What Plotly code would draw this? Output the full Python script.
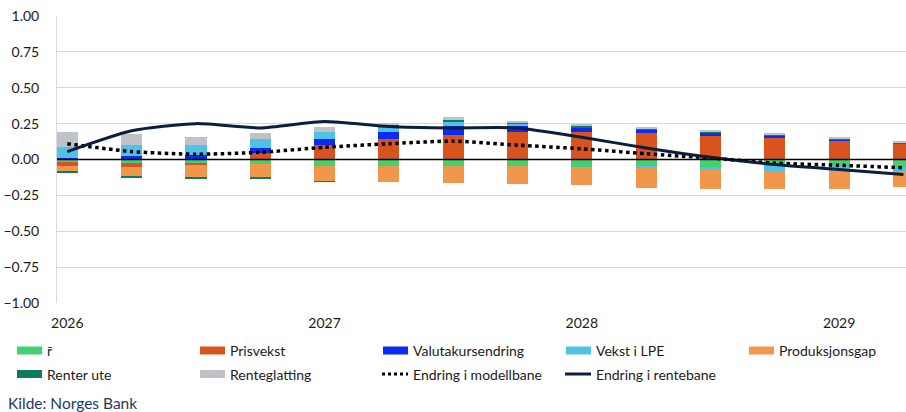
import plotly.graph_objects as go

# Quarterly decomposition of the change in the policy rate path
quarters = ["2026K1", "2026K2", "2026K3", "2026K4",
            "2027K1", "2027K2", "2027K3", "2027K4",
            "2028K1", "2028K2", "2028K3", "2028K4",
            "2029K1", "2029K2"]
year_ticks = [0, 4, 8, 12]
year_labels = ["2026", "2027", "2028", "2029"]

rbar = [-0.014, -0.021, -0.025, -0.030, -0.042, -0.042, -0.042,
        -0.042, -0.049, -0.049, -0.049, -0.042, -0.042, -0.049]
prisvekst = [-0.033, -0.030, -0.010, 0.044, 0.098, 0.144, 0.174,
             0.190, 0.195, 0.186, 0.167, 0.155, 0.132, 0.109]
valuta = [0.009, 0.021, 0.028, 0.035, 0.042, 0.046, 0.060,
          0.042, 0.026, 0.023, 0.023, 0.009, 0.007, 0.005]
lpe = [0.077, 0.081, 0.074, 0.065, 0.051, 0.042, 0.033,
       0.016, 0.000, -0.012, -0.021, -0.035, -0.035, -0.028]
prodgap = [-0.037, -0.065, -0.088, -0.095, -0.109, -0.116, -0.123,
           -0.128, -0.128, -0.137, -0.139, -0.132, -0.128, -0.116]
renter_ute = [-0.009, -0.009, -0.007, -0.009, -0.002, 0.005, 0.005,
              0.009, 0.016, 0.009, 0.007, 0.008, 0.005, 0.003]
renteglatting = [0.109, 0.077, 0.053, 0.042, 0.035, 0.019, 0.023,
                 0.014, 0.007, 0.007, 0.007, 0.007, 0.007, 0.007]

modellbane = [0.110, 0.055, 0.037, 0.050, 0.085, 0.110, 0.128,
              0.100, 0.075, 0.040, 0.010, -0.025, -0.040, -0.058]
rentebane = [0.055, 0.200, 0.250, 0.220, 0.265, 0.230, 0.220,
             0.220, 0.155, 0.080, 0.015, -0.035, -0.070, -0.105]

bar_series = [
    ("r\u0304", rbar, "#41d172"),
    ("Prisvekst", prisvekst, "#d9531e"),
    ("Valutakursendring", valuta, "#0b2bf5"),
    ("Vekst i LPE", lpe, "#4ec3e6"),
    ("Produksjonsgap", prodgap, "#f0974c"),
    ("Renter ute", renter_ute, "#0e7a60"),
    ("Renteglatting", renteglatting, "#bfc2c8"),
]
line_series = [
    ("Endring i modellbane", modellbane, "#000000", "dot", 3.5),
    ("Endring i rentebane", rentebane, "#0c1e3e", "solid", 3),
]

W, H = 906, 412
ML, MR, MT, MB = 57, 0, 16, 109
FONT = "Lato"
TEXT = "#1a1a1a"

x = list(range(len(quarters)))

fig = go.Figure()
for name, vals, col in bar_series:
    fig.add_trace(go.Bar(x=x, y=vals, name=name, width=0.33,
                         marker=dict(color=col, line=dict(width=0)),
                         showlegend=False, hovertext=quarters))
for name, vals, col, dash, lw in line_series:
    fig.add_trace(go.Scatter(x=x, y=vals, name=name, mode="lines",
                             line=dict(color=col, width=lw, dash=dash,
                                       shape="spline", smoothing=0.6),
                             showlegend=False, hovertext=quarters))


def px_x(p):
    return (p - ML) / (W - ML - MR)


def px_y(p):
    return (H - MB - p) / (H - MT - MB)


shapes = [dict(type="line", xref="paper", yref="y", x0=0, x1=1, y0=0, y1=0,
               line=dict(color="black", width=1.5), layer="above")]
annotations = []

# Legend laid out in two rows of five columns
col_x = [17, 200, 383, 566, 749]
row_y = [350.5, 374]
entries = [(n, "bar", c, None) for n, _, c in bar_series[:5]] + \
          [(n, "bar", c, None) for n, _, c in bar_series[5:]] + \
          [(n, "line", c, d) for n, _, c, d, _ in line_series]
for i, (name, kind, col, dash) in enumerate(entries):
    cx = col_x[i % 5]
    cy = row_y[i // 5]
    if kind == "bar":
        shapes.append(dict(type="rect", xref="paper", yref="paper",
                           x0=px_x(cx), x1=px_x(cx + 25),
                           y0=px_y(cy + 4), y1=px_y(cy - 4),
                           fillcolor=col, line=dict(width=0)))
    else:
        shapes.append(dict(type="line", xref="paper", yref="paper",
                           x0=px_x(cx - 1), x1=px_x(cx + 25),
                           y0=px_y(cy), y1=px_y(cy),
                           line=dict(color=col, width=3, dash=dash)))
    annotations.append(dict(text=name, xref="paper", yref="paper",
                            x=px_x(cx + 28), y=px_y(cy), xanchor="left",
                            yanchor="middle", showarrow=False,
                            font=dict(family=FONT, size=14, color=TEXT)))

annotations.append(dict(text="Kilde: Norges Bank", xref="paper", yref="paper",
                        x=px_x(6), y=px_y(403), xanchor="left", yanchor="middle",
                        showarrow=False,
                        font=dict(family=FONT, size=15.5, color="#1f3864")))

fig.update_layout(
    width=W, height=H,
    margin=dict(l=ML, r=MR, t=MT, b=MB, pad=0),
    barmode="relative",
    bargap=0,
    plot_bgcolor="white", paper_bgcolor="white",
    font=dict(family=FONT, size=14, color=TEXT),
    shapes=shapes, annotations=annotations,
    showlegend=False,
    xaxis=dict(range=[-0.16, 13.04], tickmode="array", tickvals=year_ticks,
               ticktext=year_labels, showgrid=False, zeroline=False,
               showline=False, ticks="", ticklabelstandoff=10,
               tickfont=dict(family=FONT, size=14, color=TEXT)),
    yaxis=dict(range=[-1, 1], tickmode="array",
               tickvals=[1, 0.75, 0.5, 0.25, 0, -0.25, -0.5, -0.75, -1],
               tickformat=".2f", showgrid=True, gridcolor="#d9d9d9",
               gridwidth=1, zeroline=False, showline=True,
               linecolor="#d9d9d9", linewidth=1, ticks="",
               ticklabelstandoff=14,
               tickfont=dict(family=FONT, size=14, color=TEXT)),
)

fig.write_html("out.html")
